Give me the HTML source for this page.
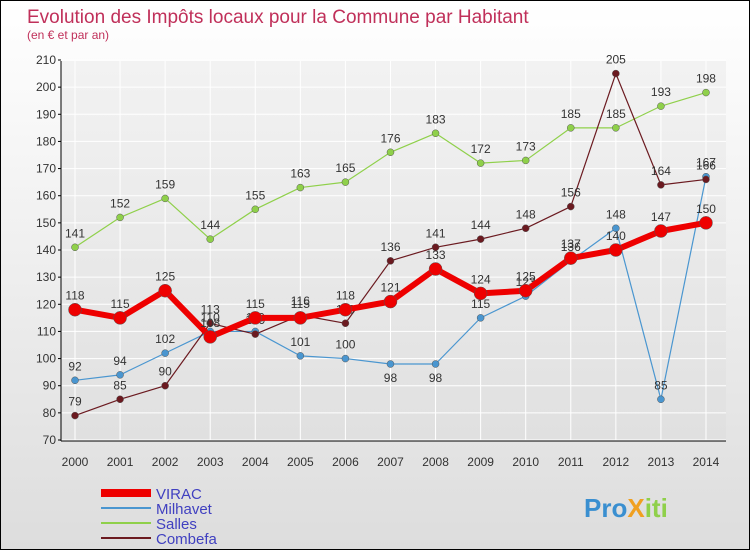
<!DOCTYPE html>
<html><head><meta charset="utf-8"><style>
body{margin:0}
#c{position:relative;width:748px;height:548px;border:1px solid #000;background:linear-gradient(#fff,#ddd);font-family:"Liberation Sans",sans-serif;overflow:hidden}
</style></head><body>
<div id="c">
<svg id="s" width="748" height="548" xmlns="http://www.w3.org/2000/svg"></svg>
</div>
<script>
const years=[2000,2001,2002,2003,2004,2005,2006,2007,2008,2009,2010,2011,2012,2013,2014];
const ticks=[70,80,90,100,110,120,130,140,150,160,170,180,190,200,210];
const virac=[118,115,125,108,115,115,118,121,133,124,125,137,140,147,150];
const milhavet=[92,94,102,110,110,101,100,98,98,115,123,136,148,85,167];
const salles=[141,152,159,144,155,163,165,176,183,172,173,185,185,193,198];
const combefa=[79,85,90,113,109,116,113,136,141,144,148,156,205,164,166];
const NS="http://www.w3.org/2000/svg",s=document.getElementById('s');
const X=i=>74+i*45.07, Y=v=>439-(v-70)*380/140;
function el(t,a,p){const e=document.createElementNS(NS,t);for(const k in a)e.setAttribute(k,a[k]);(p||s).appendChild(e);return e;}
let t=el('text',{x:26,y:22,fill:'#c0305a','font-size':19});t.textContent='Evolution des Impôts locaux pour la Commune par Habitant';

t=el('text',{x:26,y:38,fill:'#c0305a','font-size':12});t.textContent='(en € et par an)';

const gr=el('linearGradient',{id:'pg',x1:0,y1:0,x2:0,y2:1});
el('stop',{offset:0,'stop-color':'#f2f2f2'},gr);el('stop',{offset:1,'stop-color':'#e0e0e0'},gr);
el('rect',{x:60,y:60,width:665,height:380,fill:'url(#pg)'});
ticks.forEach(v=>{el('line',{x1:60,x2:725,y1:Y(v),y2:Y(v),stroke:'#fff'});
el('line',{x1:57,x2:60,y1:Y(v),y2:Y(v),stroke:'#000'});
const l=el('text',{x:55,y:Y(v)+4,'text-anchor':'end','font-size':12,fill:'#333'});l.textContent=v;
});
years.forEach((y,i)=>{el('line',{x1:X(i),x2:X(i),y1:60,y2:440,stroke:'#fff'});
const l=el('text',{x:X(i),y:465,'text-anchor':'middle','font-size':12,fill:'#333'});l.textContent=y;
});
el('line',{x1:60,x2:60,y1:60,y2:440,stroke:'#000'});el('line',{x1:60,x2:725,y1:440,y2:440,stroke:'#000'});
const below=new Set(['milhavet7','milhavet8']);
function series(d,col,w,r,name){
const g=el('g',{});
el('polyline',{points:d.map((v,i)=>X(i)+','+Y(v)).join(' '),fill:'none',stroke:col,'stroke-width':w,'stroke-linejoin':'round'},g);
d.forEach((v,i)=>{const c=el('circle',{cx:X(i),cy:Y(v),r:r,fill:col,stroke:'#555','stroke-width':0.5},g);

const l=el('text',{x:X(i),y:Y(v)+(below.has(name+i)?18:-10),'text-anchor':'middle','font-size':12,fill:'#333'},g);l.textContent=v;});}
series(salles,'#8fd04a',1.2,3.5,'salles');
series(milhavet,'#4a96d0',1.2,3.5,'milhavet');
series(combefa,'#6b1a20',1.2,3.5,'combefa');
series(virac,'#ee0000',6,6.5,'virac');
const leg=[['VIRAC','#ee0000',8],['Milhavet','#4a96d0',2],['Salles','#8fd04a',2],['Combefa','#6b1a20',2]];
leg.forEach((e,i)=>{const y=492+i*15;const g=el('g',{});
el('line',{x1:100,x2:150,y1:y,y2:y,stroke:e[1],'stroke-width':e[2]},g);
const l=el('text',{x:155,y:y+6,'font-size':15,fill:'#4040c0'},g);l.textContent=e[0];});
t=el('text',{x:583,y:516,'font-size':26,'font-weight':'bold',fill:'#3a8fd0'});

[['Pro','#3a8fd0'],['X','#f0a020'],['iti','#8fd04a']].forEach(p=>{const sp=el('tspan',{fill:p[1]},t);sp.textContent=p[0];});
</script>
</body></html>
